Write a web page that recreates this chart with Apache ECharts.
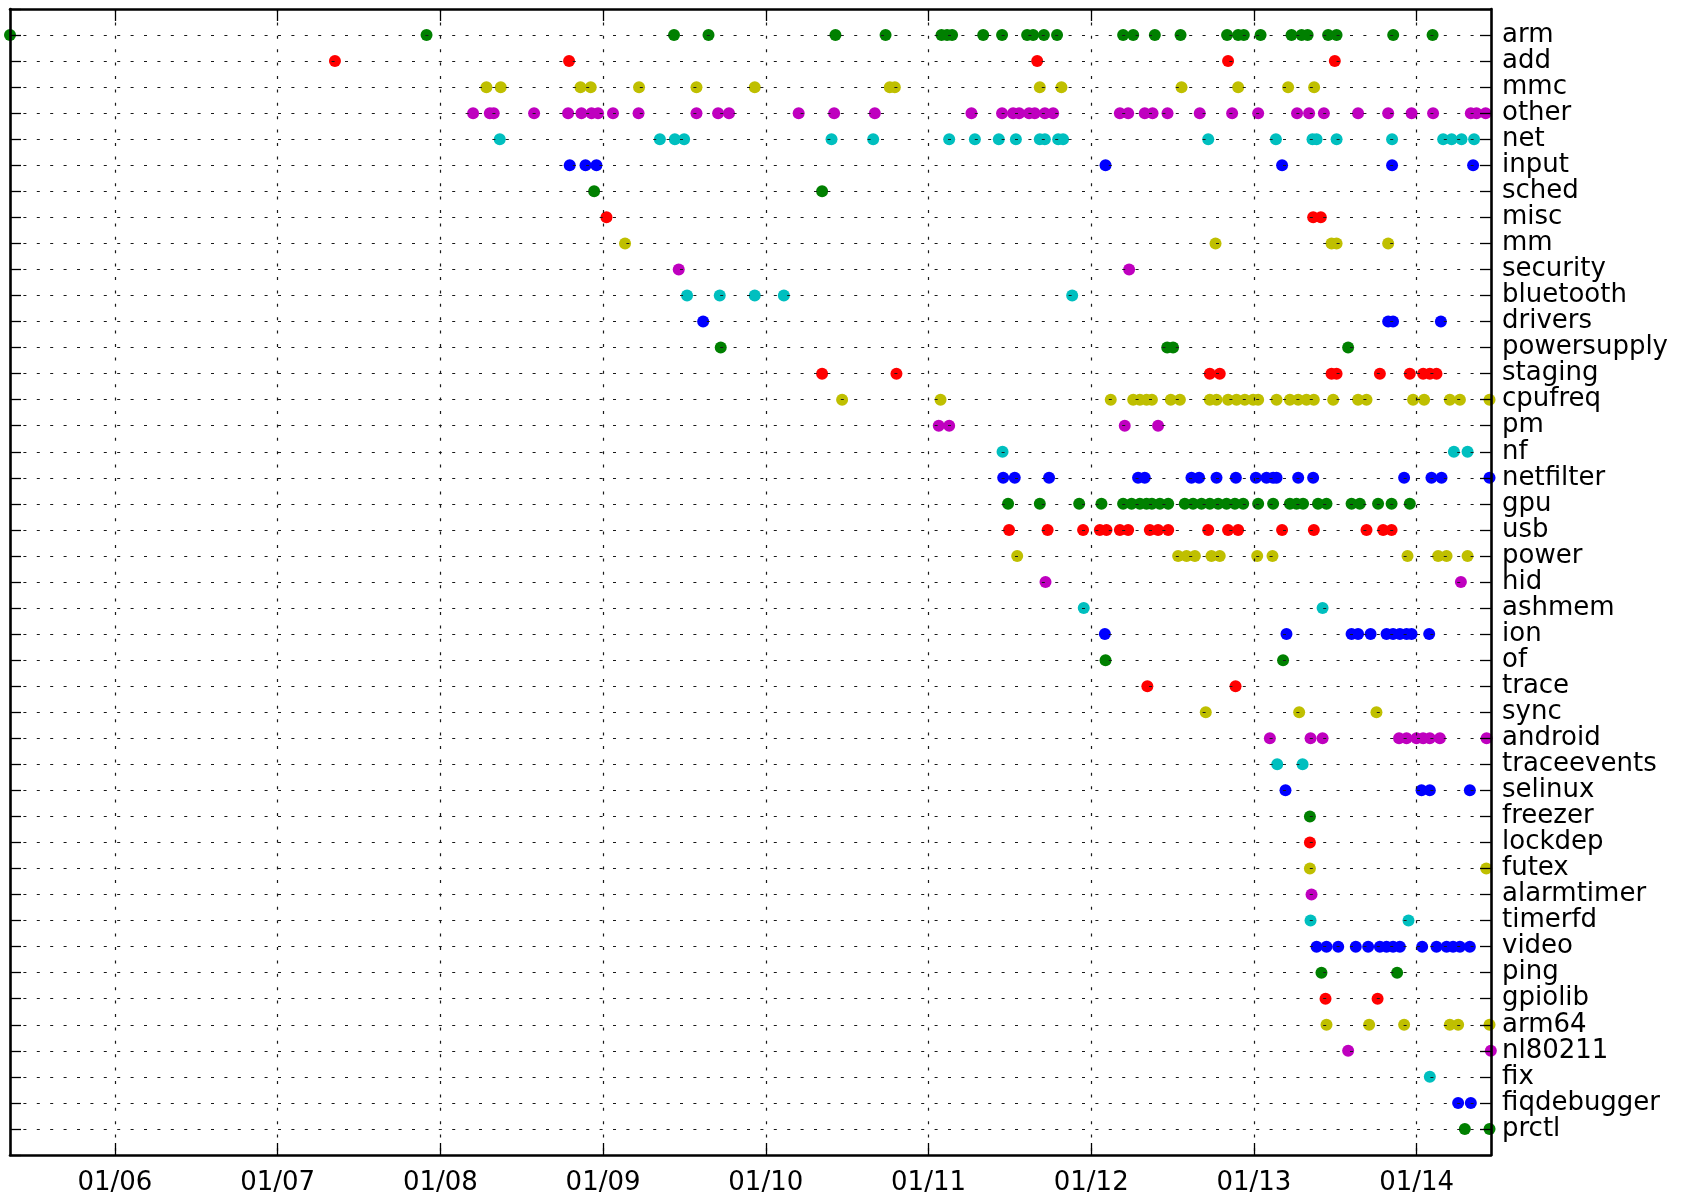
<!DOCTYPE html>
<html><head><meta charset="utf-8">
<script src="https://cdn.jsdelivr.net/npm/echarts@6/dist/echarts.min.js"></script>
<style>html,body{margin:0;padding:0;background:#fff}#c{width:1690px;height:1196px}</style>
</head><body><div id="c"></div>
<script>
const categories = ['arm','add','mmc','other','net','input','sched','misc','mm','security','bluetooth','drivers','powersupply','staging','cpufreq','pm','nf','netfilter','gpu','usb','power','hid','ashmem','ion','of','trace','sync','android','traceevents','selinux','freezer','lockdep','futex','alarmtimer','timerfd','video','ping','gpiolib','arm64','nl80211','fix','fiqdebugger','prctl'];
const xTickValues = [2006,2007,2008,2009,2010,2011,2012,2013,2014];
const xTickLabels = ['01/06','01/07','01/08','01/09','01/10','01/11','01/12','01/13','01/14'];
const palette = ['#008000','#ff0000','#bfbf00','#bf00bf','#00bfbf','#0000ff'];
const xMin = 2005.355, xMax = 2014.457;

// commit dates (decimal years) per subsystem
const armDates = [2005.355,2007.915,2009.436,2009.648,2010.428,2010.736,2011.080,2011.114,2011.145,2011.336,2011.452,2011.606,2011.643,2011.709,2011.790,2012.196,2012.258,2012.391,2012.549,2012.835,2012.903,2012.938,2013.041,2013.231,2013.293,2013.330,2013.456,2013.508,2013.856,2014.098];
const addDates = [2007.352,2008.791,2011.668,2012.841,2013.497];
const mmcDates = [2008.283,2008.371,2008.861,2008.924,2009.221,2009.574,2009.932,2010.762,2010.793,2011.684,2011.817,2012.555,2012.903,2013.210,2013.370];
const otherDates = [2008.201,2008.304,2008.328,2008.576,2008.785,2008.867,2008.929,2008.969,2009.061,2009.218,2009.574,2009.707,2009.774,2010.202,2010.420,2010.670,2011.264,2011.452,2011.520,2011.557,2011.618,2011.653,2011.715,2011.766,2012.176,2012.227,2012.329,2012.377,2012.469,2012.667,2012.866,2013.026,2013.265,2013.339,2013.430,2013.640,2013.825,2013.969,2014.101,2014.333,2014.368,2014.424];
const netDates = [2008.365,2009.349,2009.441,2009.498,2010.404,2010.660,2011.127,2011.285,2011.432,2011.537,2011.684,2011.715,2011.797,2011.827,2012.719,2013.135,2013.360,2013.385,2013.508,2013.849,2014.163,2014.215,2014.276,2014.353];
const inputDates = [2008.795,2008.892,2008.959,2012.088,2013.173,2013.849,2014.347];
const schedDates = [2008.945,2010.346];
const miscDates = [2009.021,2013.364,2013.411];
const mmDates = [2009.135,2012.764,2013.477,2013.508,2013.825];
const securityDates = [2009.465,2012.233];
const bluetoothDates = [2009.516,2009.717,2009.932,2010.111,2011.883];
const driversDates = [2009.615,2013.825,2013.855,2014.149];
const powersupplyDates = [2009.723,2012.467,2012.503,2013.579];
const stagingDates = [2010.346,2010.803,2012.729,2012.790,2013.477,2013.508,2013.774,2013.958,2014.040,2014.081,2014.122];
const cpufreqDates = [2010.469,2011.074,2012.120,2012.258,2012.299,2012.340,2012.373,2012.489,2012.545,2012.729,2012.770,2012.841,2012.893,2012.944,2012.995,2013.026,2013.139,2013.221,2013.272,2013.323,2013.368,2013.487,2013.640,2013.692,2013.978,2014.046,2014.204,2014.266,2014.448];
const pmDates = [2011.063,2011.127,2012.206,2012.411];
const nfDates = [2011.455,2014.229,2014.313];
const netfilterDates = [2011.459,2011.530,2011.741,2012.288,2012.329,2012.616,2012.663,2012.770,2012.889,2013.012,2013.077,2013.118,2013.139,2013.272,2013.364,2013.923,2014.091,2014.153,2014.448];
const gpuDates = [2011.489,2011.684,2011.926,2012.063,2012.196,2012.248,2012.299,2012.340,2012.373,2012.422,2012.473,2012.575,2012.626,2012.678,2012.729,2012.780,2012.832,2012.883,2012.934,2013.026,2013.118,2013.221,2013.262,2013.302,2013.394,2013.446,2013.600,2013.651,2013.763,2013.846,2013.958];
const usbDates = [2011.495,2011.732,2011.950,2012.053,2012.094,2012.176,2012.227,2012.360,2012.411,2012.473,2012.719,2012.841,2012.903,2013.173,2013.368,2013.692,2013.794,2013.846];
const powerDates = [2011.545,2012.534,2012.586,2012.637,2012.739,2012.790,2013.020,2013.114,2013.944,2014.132,2014.184,2014.313];
const hidDates = [2011.719,2014.272];
const ashmemDates = [2011.954,2013.422];
const ionDates = [2012.084,2013.200,2013.600,2013.640,2013.717,2013.815,2013.855,2013.897,2013.938,2013.969,2014.077];
const ofDates = [2012.088,2013.179];
const traceDates = [2012.345,2012.887];
const syncDates = [2012.704,2013.278,2013.753];
const androidDates = [2013.098,2013.348,2013.422,2013.892,2013.938,2013.999,2014.040,2014.081,2014.143,2014.430];
const traceeventsDates = [2013.143,2013.299];
const selinuxDates = [2013.194,2014.030,2014.081,2014.327];
const freezerDates = [2013.344];
const lockdepDates = [2013.344];
const futexDates = [2013.344,2014.428];
const alarmtimerDates = [2013.354];
const timerfdDates = [2013.348,2013.950];
const videoDates = [2013.385,2013.446,2013.518,2013.626,2013.702,2013.774,2013.815,2013.855,2013.897,2014.034,2014.122,2014.184,2014.224,2014.266,2014.327];
const pingDates = [2013.415,2013.880];
const gpiolibDates = [2013.440,2013.760];
const arm64Dates = [2013.446,2013.708,2013.923,2014.204,2014.255,2014.448];
const nl80211Dates = [2013.579,2014.456];
const fixDates = [2014.081];
const fiqdebuggerDates = [2014.255,2014.333];
const prctlDates = [2014.296,2014.448];

const rows = [armDates,addDates,mmcDates,otherDates,netDates,inputDates,schedDates,miscDates,mmDates,securityDates,bluetoothDates,driversDates,powersupplyDates,stagingDates,cpufreqDates,pmDates,nfDates,netfilterDates,gpuDates,usbDates,powerDates,hidDates,ashmemDates,ionDates,ofDates,traceDates,syncDates,androidDates,traceeventsDates,selinuxDates,freezerDates,lockdepDates,futexDates,alarmtimerDates,timerfdDates,videoDates,pingDates,gpiolibDates,arm64Dates,nl80211Dates,fixDates,fiqdebuggerDates,prctlDates];

const FONT = 'DejaVu Sans';
const gridDash = {color:'#1a1a1a', width:1.2, type:[3,10.4]};
const borderLine = {show:true, onZero:false, lineStyle:{color:'#000', width:2.6}};

const chart = echarts.init(document.getElementById('c'), null, {renderer:'canvas'});
chart.setOption({
  animation:false,
  backgroundColor:'#fff',
  grid:{left:10, right:199, top:9, bottom:41, containLabel:false},
  xAxis:[
    {type:'value', position:'bottom', min:xMin, max:xMax, z:5,
     axisLine:borderLine,
     axisTick:{show:true, inside:true, length:12, customValues:xTickValues, lineStyle:{color:'#000', width:1.3}},
     axisLabel:{show:true, customValues:xTickValues, margin:15, fontSize:26, fontFamily:FONT, color:'#000',
       formatter:v=>{const i=xTickValues.indexOf(Math.round(v)); return i>=0?xTickLabels[i]:'';}},
     splitLine:{show:true, lineStyle:gridDash}},
    {type:'value', position:'top', min:xMin, max:xMax, z:5,
     axisLine:borderLine,
     axisTick:{show:true, inside:true, length:12, customValues:xTickValues, lineStyle:{color:'#000', width:1.3}},
     axisLabel:{show:false, customValues:xTickValues},
     splitLine:{show:false}}
  ],
  yAxis:[
    {type:'value', position:'right', inverse:true, min:-1, max:43, interval:1, z:5,
     axisLine:borderLine,
     axisTick:{show:true, inside:true, length:11, lineStyle:{color:'#000', width:1.3}},
     axisLabel:{show:true, margin:11, fontSize:26, fontFamily:FONT, color:'#000',
       formatter:v=>{const i=Math.round(v); return (i>=0&&i<categories.length)?categories[i]:'';}},
     splitLine:{show:true, lineStyle:gridDash}},
    {type:'value', position:'left', inverse:true, min:-1, max:43, interval:1, z:5,
     axisLine:borderLine,
     axisTick:{show:true, inside:true, length:11, lineStyle:{color:'#000', width:1.3}},
     axisLabel:{show:false},
     splitLine:{show:false}}
  ],
  series: rows.map((r,i)=>({
    type:'scatter', name:categories[i], xAxisIndex:0, yAxisIndex:0,
    data:r.map(x=>[x,i]), symbol:'circle', symbolSize:12, z:2, silent:true,
    itemStyle:{color:palette[i%palette.length], opacity:1}
  }))
});
</script></body></html>
